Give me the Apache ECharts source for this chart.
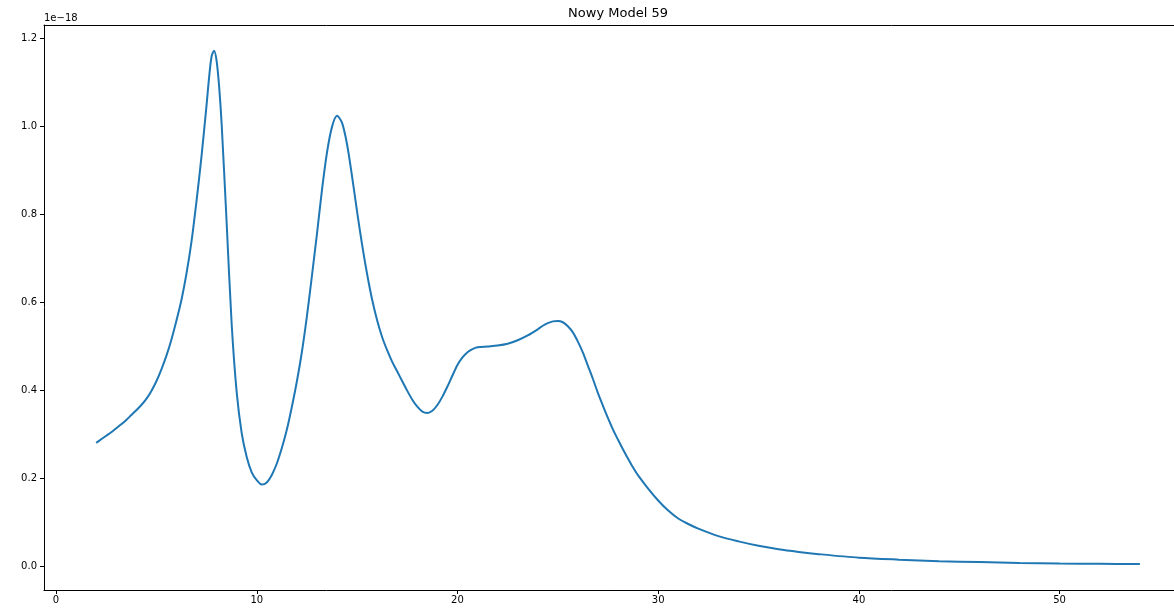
<!DOCTYPE html>
<html>
<head>
<meta charset="utf-8">
<script src="https://cdn.jsdelivr.net/npm/echarts@6/dist/echarts.min.js"></script>
<style>
html,body{margin:0;padding:0;background:#fff;}
#chart{width:1174px;height:609px;}
</style>
</head>
<body>
<div id="chart"></div>
<script>
// Data (y in units of 1e-18)
const xValues = [2.0, 2.25, 2.5, 2.75, 3.0, 3.25, 3.5, 3.75, 4.0, 4.25, 4.5, 4.75, 5.0, 5.25, 5.5, 5.75, 6.0, 6.25, 6.5, 6.75, 7.0, 7.25, 7.5, 7.625, 7.75, 7.875, 8.0, 8.125, 8.25, 8.5, 8.75, 9.0, 9.25, 9.5, 9.75, 10.0, 10.25, 10.5, 10.75, 11.0, 11.25, 11.5, 11.75, 12.0, 12.25, 12.5, 12.75, 13.0, 13.25, 13.5, 13.75, 14.0, 14.25, 14.5, 14.75, 15.0, 15.25, 15.5, 15.75, 16.0, 16.25, 16.5, 16.75, 17.0, 17.25, 17.5, 17.75, 18.0, 18.25, 18.5, 18.75, 19.0, 19.25, 19.5, 19.75, 20.0, 20.25, 20.5, 20.75, 21.0, 21.5, 22.0, 22.5, 23.0, 23.5, 24.0, 24.25, 24.5, 24.75, 25.0, 25.25, 25.5, 25.75, 26.0, 26.25, 26.5, 26.75, 27.0, 27.25, 27.5, 27.75, 28.0, 28.25, 28.5, 28.75, 29.0, 29.5, 30.0, 30.5, 31.0, 31.5, 32, 33, 34, 35, 36, 37, 38, 40, 42, 44, 46, 48, 50, 52, 54];
const yValues = [0.280, 0.288, 0.296, 0.304, 0.313, 0.322, 0.332, 0.343, 0.354, 0.366, 0.380, 0.398, 0.420, 0.447, 0.478, 0.515, 0.558, 0.605, 0.665, 0.738, 0.830, 0.932, 1.048, 1.110, 1.158, 1.171, 1.148, 1.090, 1.005, 0.780, 0.550, 0.395, 0.302, 0.248, 0.213, 0.195, 0.185, 0.190, 0.207, 0.233, 0.268, 0.310, 0.362, 0.420, 0.487, 0.568, 0.660, 0.755, 0.855, 0.940, 0.998, 1.023, 1.007, 0.958, 0.885, 0.805, 0.730, 0.663, 0.605, 0.558, 0.520, 0.490, 0.464, 0.442, 0.420, 0.398, 0.378, 0.362, 0.351, 0.348, 0.353, 0.366, 0.385, 0.408, 0.433, 0.457, 0.474, 0.486, 0.493, 0.497, 0.499, 0.501, 0.505, 0.513, 0.524, 0.538, 0.546, 0.552, 0.556, 0.557, 0.554, 0.545, 0.531, 0.510, 0.485, 0.455, 0.425, 0.393, 0.364, 0.336, 0.310, 0.287, 0.265, 0.244, 0.224, 0.206, 0.176, 0.149, 0.126, 0.108, 0.0955, 0.085, 0.068, 0.056, 0.046, 0.038, 0.032, 0.027, 0.019, 0.0145, 0.011, 0.009, 0.007, 0.0058, 0.005, 0.0045];
const xTicks = [0, 10, 20, 30, 40, 50];
const yTicks = [0.0, 0.2, 0.4, 0.6, 0.8, 1.0, 1.2];
const titleText = 'Nowy Model 59';
const offsetText = '1e\u221218';

const chart = echarts.init(document.getElementById('chart'));
const font = 'DejaVu Sans';
const axisCol = '#000';
const option = {
  animation: false,
  backgroundColor: '#fff',
  textStyle: {fontFamily: font},
  grid: {left: 44, top: 25, right: 0, bottom: 19, containLabel: false},
  graphic: [
    {type: 'text', x: 618, y: 14, style: {text: titleText, font: '13px "DejaVu Sans"', fill: '#000', textAlign: 'center', textVerticalAlign: 'middle'}},
    {type: 'text', x: 44, y: 18, style: {text: offsetText, font: '10px "DejaVu Sans"', fill: '#000', textAlign: 'left', textVerticalAlign: 'middle'}}
  ],
  xAxis: [{
    type: 'value', min: -0.6, max: 55.7,
    axisLine: {show: true, onZero: false, lineStyle: {color: axisCol, width: 1}},
    axisTick: {show: true, length: 4, lineStyle: {color: axisCol}, customValues: xTicks},
    axisLabel: {color: '#000', fontSize: 10, fontFamily: font, margin: 5, customValues: xTicks, formatter: v => String(v)},
    splitLine: {show: false}
  }, {
    type: 'value', position: 'top', min: -0.6, max: 55.7,
    axisLine: {show: true, onZero: false, lineStyle: {color: axisCol, width: 1}},
    axisTick: {show: false}, axisLabel: {show: false}, splitLine: {show: false}
  }],
  yAxis: {
    type: 'value', min: -0.0545, max: 1.2295,
    axisLine: {show: true, onZero: false, lineStyle: {color: axisCol, width: 1}},
    axisTick: {show: true, length: 4, lineStyle: {color: axisCol}, customValues: yTicks},
    axisLabel: {color: '#000', fontSize: 10, fontFamily: font, margin: 7, customValues: yTicks, formatter: v => v.toFixed(1)},
    splitLine: {show: false}
  },
  series: [{
    type: 'line',
    data: xValues.map((x, i) => [x, yValues[i]]),
    showSymbol: false,
    smooth: 0.3,
    lineStyle: {color: '#1f77b4', width: 2},
    itemStyle: {color: '#1f77b4'}
  }]
};
chart.setOption(option);
</script>
</body>
</html>
